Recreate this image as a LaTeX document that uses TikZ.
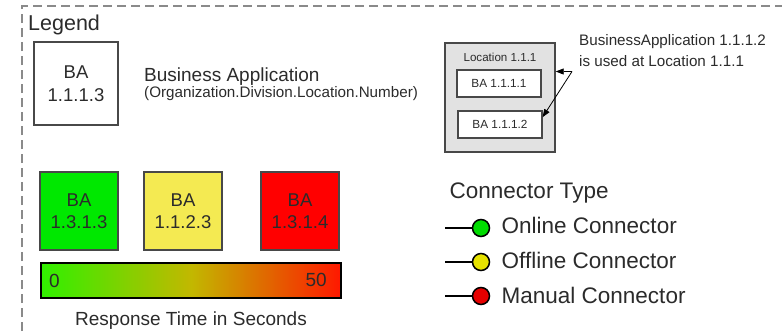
\documentclass[tikz,border=0pt]{standalone}
\usepackage{fontspec}
\setmainfont{Liberation Sans}
\usetikzlibrary{arrows.meta,calc}

\definecolor{ink}{HTML}{2B2B2B}
\definecolor{boxedge}{HTML}{484848}
\definecolor{framegray}{HTML}{8A8A8A}
\definecolor{locfill}{HTML}{E2E2E2}
\definecolor{fastgreen}{HTML}{00E800}
\definecolor{slowyellow}{HTML}{F4EA52}
\definecolor{stuckred}{HTML}{FF0000}
\definecolor{plugyellow}{HTML}{E6E200}
\definecolor{plugred}{HTML}{E60000}
\definecolor{pluggreen}{HTML}{00DC00}
\definecolor{barleft}{HTML}{30F000}
\definecolor{barmid}{HTML}{C2B800}
\definecolor{barright}{HTML}{FF1800}

\newcommand\txtsize[2]{\fontsize{#1}{#2}\selectfont}

\begin{document}
\begin{tikzpicture}[x=1pt,y=-1pt,
  txt/.style={text=ink, inner sep=0pt},
  babox/.style={draw=boxedge, line width=1.3pt, inner sep=0pt, text=ink,
    align=center, font=\txtsize{18.5}{22.5}},
  smallbox/.style={draw=boxedge, line width=1.2pt, fill=white, inner sep=0pt,
    text=ink, font=\txtsize{11.8}{14}, minimum width=84pt, minimum height=27pt},
  plug/.style={circle, draw=black, line width=1.5pt, minimum size=17pt, inner sep=0pt},
  wire/.style={draw=black, line width=1.5pt},
  pointer/.style={draw=black, line width=0.8pt, -{Triangle[length=8pt,width=6pt]}}
]
\useasboundingbox (0,0) rectangle (782,335);

% dashed legend frame (open to the right and bottom)
\draw[framegray, line width=2pt, dash pattern=on 9pt off 5pt] (22,345) -- (22,6) -- (790,6);

\node[txt, anchor=base west, font=\txtsize{21.5}{24}] (legend) at (28,30) {Legend};

% business application symbol
\node[babox, minimum width=84pt, minimum height=83pt] (ba) at (76,83.5) {BA\\1.1.1.3};
\node[txt, anchor=base west, font=\txtsize{19}{22}] (batitle) at (144,81) {Business Application};
\node[txt, anchor=base west, font=\txtsize{15.2}{18}] (banaming) at (144,97) {(Organization.Division.Location.Number)};

% location with its applications
\node[draw=boxedge, line width=1.4pt, fill=locfill, minimum width=110pt, minimum height=109pt,
  inner sep=0pt] (loc) at (500,97.5) {};
\node[txt, anchor=base, font=\txtsize{11.6}{14}] (loctitle) at (500,61.5) {Location 1.1.1};
\node[smallbox] (ba1) at (499,83.5) {BA 1.1.1.1};
\node[smallbox] (ba2) at (500,124.5) {BA 1.1.1.2};

\node[txt, anchor=base west, font=\txtsize{15.2}{21}, align=left] (usage) at (579,66)
  {BusinessApplication 1.1.1.2\\is used at Location 1.1.1};
\coordinate (apex) at (572,71.5);
\draw[pointer] (apex) -- (apex -| loc.east);
\draw[pointer] (apex) -- ($(ba2.north east)!0.24!(ba2.south east)$);

% response time colouring
\node[babox, fill=fastgreen, minimum width=78pt, minimum height=78pt] (green) at (79,211) {BA\\1.3.1.3};
\node[babox, fill=slowyellow, minimum width=78pt, minimum height=78pt] (yellow) at (183,211) {BA\\1.1.2.3};
\node[babox, fill=stuckred, minimum width=78pt, minimum height=78pt] (red) at (300,211) {BA\\1.3.1.4};

\node[draw=black, line width=1.2pt, minimum width=300pt, minimum height=35pt, inner sep=0pt,
  left color=barleft, right color=barright, middle color=barmid] (bar) at (191,280.5) {};
\node[txt, anchor=base west, font=\txtsize{19}{22}] (zero) at (49,287) {0};
\node[txt, anchor=base east, font=\txtsize{19}{22}] (fifty) at (327,286) {50};
\node[txt, anchor=base, font=\txtsize{19}{22}] (rtlabel) at (191,325) {Response Time in Seconds};

% connector types
\node[txt, anchor=base west, font=\txtsize{22.5}{26}] (ctitle) at (449.5,198.5) {Connector Type};

\coordinate (w1) at (445,228);
\node[plug, fill=pluggreen] (p1) at (481,228) {};
\draw[wire] (w1) -- (p1);
\node[txt, anchor=base west, font=\txtsize{22.5}{26}] (online) at (501.5,233.5) {Online Connector};

\coordinate (w2) at (445,262);
\node[plug, fill=plugyellow] (p2) at (481,262) {};
\draw[wire] (w2) -- (p2);
\node[txt, anchor=base west, font=\txtsize{22.5}{26}] (offline) at (501.5,268) {Offline Connector};

\coordinate (w3) at (445,296);
\node[plug, fill=plugred] (p3) at (481,296) {};
\draw[wire] (w3) -- (p3);
\node[txt, anchor=base west, font=\txtsize{22.5}{26}] (manual) at (501.5,303) {Manual Connector};
\end{tikzpicture}
\end{document}
